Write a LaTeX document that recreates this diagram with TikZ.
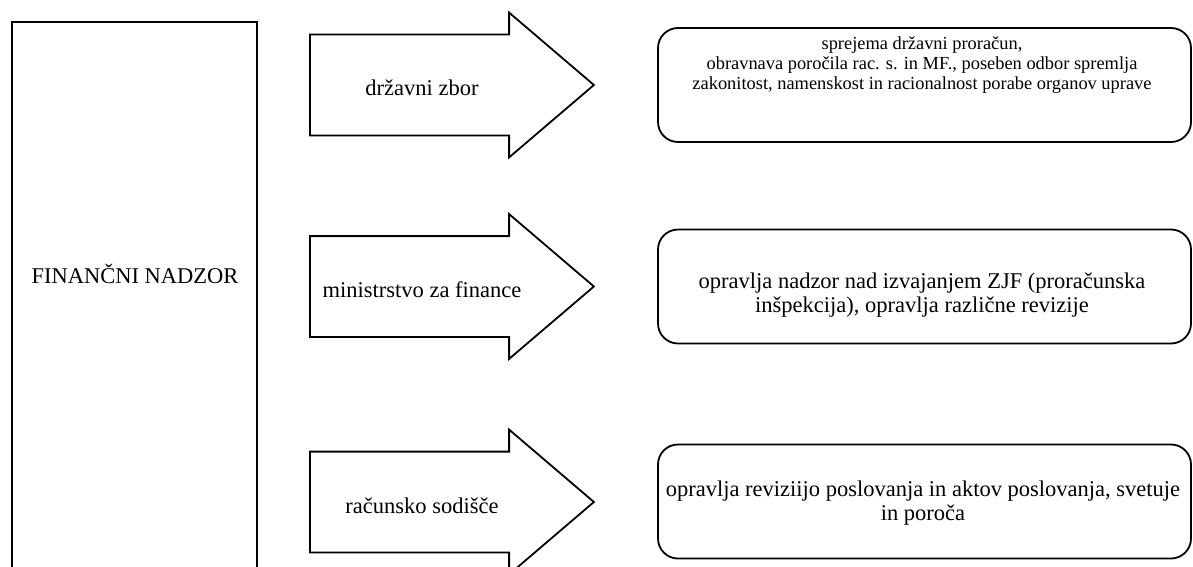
\documentclass[tikz,border=0pt]{standalone}
\usepackage{fontspec}
\setmainfont{Liberation Serif}
\usetikzlibrary{positioning,shapes.arrows}
\tikzset{%
  every block/.style={
    rectangle,
    draw,
    anchor=north,
    minimum width=122.5pt,
    minimum height=300pt
  },
  every flow/.style={
    single arrow,
    draw,
    anchor=tail,
    inner sep=0pt,
    text height=29.75pt,
    text depth=19.75pt,
    minimum height=142pt,
    single arrow head extend=11pt,
    single arrow tip angle=81
  },
  every task/.style={
    rectangle,
    draw,
    rounded corners=10pt,
    minimum width=266.5pt,
    minimum height=57pt
  },
  big text/.style={
    font=\fontsize{11.25}{12.3}\selectfont,
    align=center,
    inner sep=0pt
  },
  small text/.style={
    font=\fontsize{9.2}{10}\selectfont,
    align=center,
    inner sep=0pt
  },
}
\begin{document}
\begin{tikzpicture}[x=0.5pt, y=-0.5pt, line width=0.9pt]

\useasboundingbox (0,0) rectangle (1193,567);

% Left block
\node [every block/.try] (nadzor) at (134.5,21) {};
\node [big text, anchor=base] (nadzor-text) at (135,283) {FINANČNI NADZOR};

% Arrows
\foreach \l/\y [count=\i] in {državni zbor/85, ministrstvo za finance/286.5, računsko sodišče/502}{
  \node [every flow/.try] (flow-\i) at (309,\y) {};
  \node [big text, anchor=base] (flow-text-\i) at (422,\y+11) {\l};
}

% Boxes
\foreach \y [count=\i] in {85, 286.5, 501.5}
  \node [every task/.try] (task-\i) at (924.5,\y) {};

\node [small text] (task-text-1) at (922,65)
  {sprejema državni proračun,\\obravnava poročila rac. s. in MF., poseben odbor spremlja\\zakonitost, namenskost in racionalnost porabe organov uprave};
\node [big text] (task-text-2) at (922,295)
  {opravlja nadzor nad izvajanjem ZJF (proračunska\\inšpekcija), opravlja različne revizije};
\node [big text] (task-text-3) at (923,503)
  {opravlja reviziijo poslovanja in aktov poslovanja, svetuje\\in poroča};

\end{tikzpicture}
\end{document}
